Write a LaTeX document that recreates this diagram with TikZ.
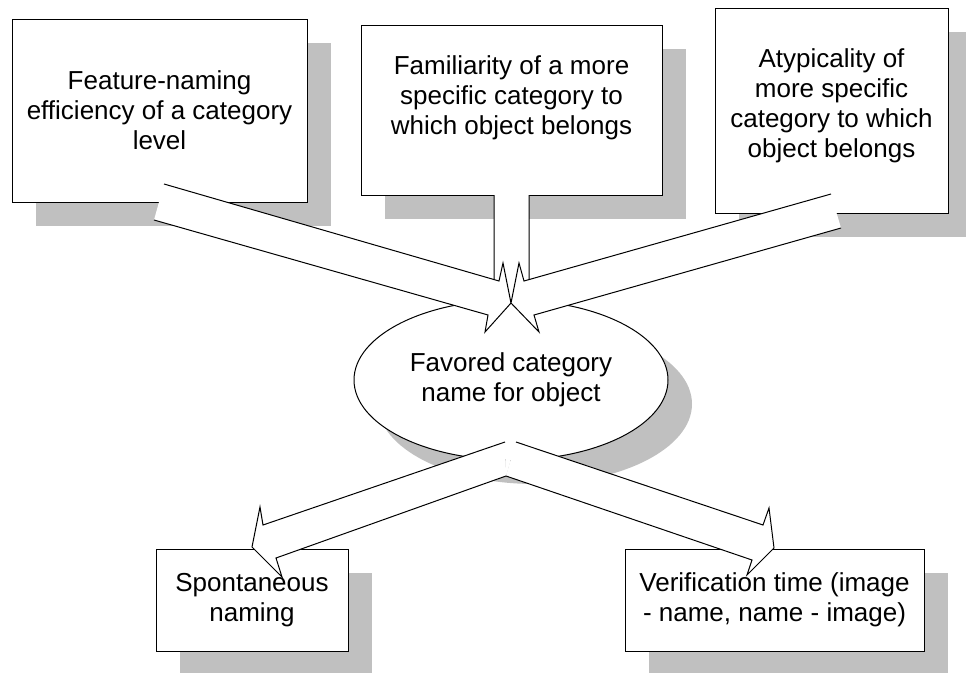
\documentclass[tikz,border=0pt]{standalone}
\usepackage{fontspec}
\setmainfont{Liberation Sans}
\usetikzlibrary{shapes.geometric,shadows}
\definecolor{shadowgrey}{RGB}{192,192,192}
\newcommand{\hollowarrow}[1]{\fill[white] #1 -- cycle; \draw #1;}

\begin{document}
\begin{tikzpicture}[x=1pt,y=-1pt,line width=1pt,font=\fontsize{26}{30}\selectfont,
    flatshadow/.style={drop shadow={shadow xshift=24pt,shadow yshift=-24pt,fill=shadowgrey,opacity=1}},
    box/.style={draw,fill=white,flatshadow,inner sep=0pt,align=center},
    bubble/.style={ellipse,draw,fill=white,flatshadow,inner sep=0pt,align=center},
    txt/.style={inner sep=0pt,align=center}]
  \useasboundingbox (0,0) rectangle (966,672);
  \node[box,minimum width=295,minimum height=183] (feat) at (159.5,110.5) {Feature-naming\\efficiency of a category\\level};
  \node[box,minimum width=301,minimum height=170] (fam) at (511.5,110) {};
  \node[txt,yshift=12] (famtext) at (fam) {Familiarity of a more\\specific category to\\which object belongs};
  \node[box,minimum width=233,minimum height=205] (atyp) at (831.5,110.5) {};
  \node[txt,yshift=5] (atyptext) at (atyp) {Atypicality of\\more specific\\category to which\\object belongs};
  \node[bubble,minimum width=314,minimum height=160] (fav) at (511,380) {Favored category\\name for object};
  \node[box,minimum width=192,minimum height=102] (spont) at (252,600) {Spontaneous\\naming};
  \node[box,minimum width=299,minimum height=102] (verif) at (774.5,600) {Verification time (image\\- name, name - image)};
  % block arrows into the ellipse, the middle one lies under the other two
  \hollowarrow{(494,195) -- (494,288) -- (476,288) -- (511,303) -- (546,288) -- (529,288) -- (529,195)}
  \hollowarrow{(164,184) -- (499,281) -- (503,263) -- (511,303) -- (485,332) -- (488,315) -- (154,220)}
  \hollowarrow{(831,194) -- (524,281) -- (519,263) -- (511,303) -- (539,332) -- (534,315) -- (841,228)}
  % block arrows out of the ellipse
  \fill[white] (505,442) -- (516,442) -- (506,476) -- cycle;
  \hollowarrow{(505,442) -- (263,525) -- (260,507) -- (252,547) -- (282,577) -- (276,558) -- (506,476)}
  \hollowarrow{(516,442) -- (763,525) -- (769,508) -- (774,548) -- (747,575) -- (752,560) -- (506,476)}
\end{tikzpicture}
\end{document}
